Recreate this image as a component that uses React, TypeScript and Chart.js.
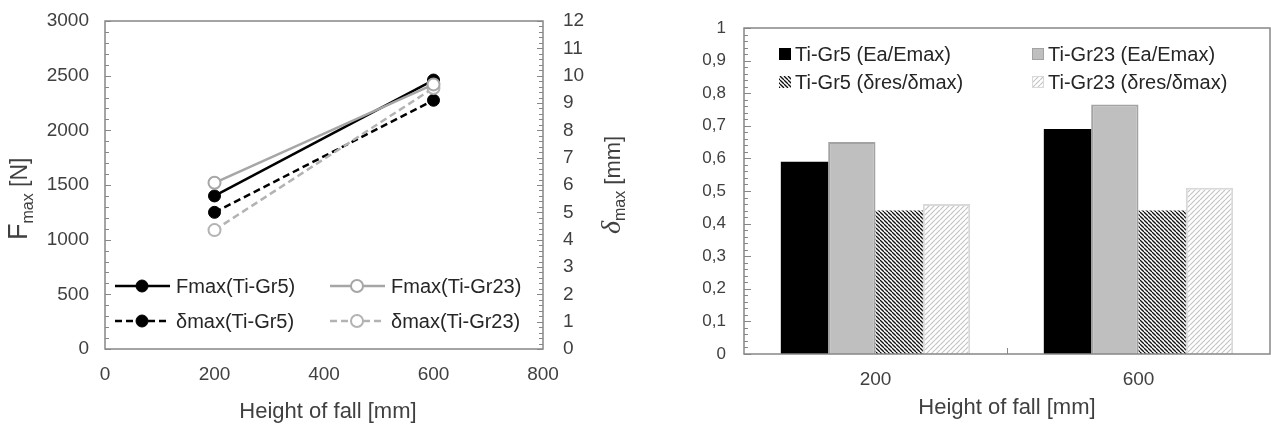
import React, { useEffect, useRef } from 'react';
import { Chart, registerables } from 'chart.js';
Chart.register(...registerables);

const FONT = '"Liberation Sans", Arial, sans-serif';
const TICK_COLOR = '#404040';
const TEXT_COLOR = '#262626';

// ---- Left chart data ----
const heights = [200, 600];
const fmaxGr5 = [1400, 2460];
const fmaxGr23 = [1520, 2420];
const dmaxGr5 = [5.0, 9.1];
const dmaxGr23 = [4.35, 9.55];
const lineLabels = ['Fmax(Ti-Gr5)', 'Fmax(Ti-Gr23)', 'δmax(Ti-Gr5)', 'δmax(Ti-Gr23)'];

// ---- Right chart data ----
const barCategories = ['200', '600'];
const eaGr5 = [0.59, 0.69];
const eaGr23 = [0.65, 0.765];
const dresGr5 = [0.44, 0.44];
const dresGr23 = [0.46, 0.51];
const barLabels = ['Ti-Gr5 (Ea/Emax)', 'Ti-Gr23 (Ea/Emax)', 'Ti-Gr5 (δres/δmax)', 'Ti-Gr23 (δres/δmax)'];

const BLACK = '#000000';
const GRAY = '#a6a6a6';
const GRAY_DASH = '#b3b3b3';
const FRAME = '#878787';

function makeHatch(color: string, bg: string, size: number, width: number, back: boolean) {
  const c = document.createElement('canvas');
  c.width = size; c.height = size;
  const g = c.getContext('2d')!;
  g.fillStyle = bg; g.fillRect(0, 0, size, size);
  g.strokeStyle = color; g.lineWidth = width;
  for (const k of [-size, 0, size]) {
    g.beginPath();
    if (back) { g.moveTo(k, 0); g.lineTo(k + size, size); }
    else { g.moveTo(k, size); g.lineTo(k + size, 0); }
    g.stroke();
  }
  return g.createPattern(c, 'repeat')!;
}

function hline(ctx: CanvasRenderingContext2D, x1: number, y: number, x2: number) {
  ctx.beginPath(); ctx.moveTo(x1, y); ctx.lineTo(x2, y); ctx.stroke();
}

function drawRotTitle(ctx: CanvasRenderingContext2D, x: number, y: number, parts: { t: string; f: string; dy: number }[]) {
  ctx.save();
  ctx.translate(x, y);
  ctx.rotate(-Math.PI / 2);
  ctx.fillStyle = TICK_COLOR;
  ctx.textBaseline = 'alphabetic';
  ctx.textAlign = 'left';
  let cx = 0;
  for (const p of parts) {
    ctx.font = p.f;
    ctx.fillText(p.t, cx, p.dy);
    cx += ctx.measureText(p.t).width;
  }
  ctx.restore();
}

const noPad = (s: any) => { s.paddingTop = 0; s.paddingBottom = 0; };

const leftPlugin = {
  id: 'leftDeco',
  beforeDatasetsDraw(chart: any) {
    const { ctx, chartArea: a, scales } = chart;
    ctx.save();
    ctx.strokeStyle = FRAME;
    ctx.lineWidth = 1.5;
    ctx.strokeRect(a.left, a.top, a.right - a.left, a.bottom - a.top);
    ctx.lineWidth = 1;
    for (let v = 0; v <= 3000; v += 100) {
      const p = Math.round(scales.y.getPixelForValue(v)) + 0.5;
      hline(ctx, a.left, p, a.left + (v % 500 === 0 ? 6 : 4));
    }
    for (let i = 0; i <= 60; i++) {
      const p = Math.round(scales.y1.getPixelForValue(i / 5)) + 0.5;
      hline(ctx, a.right - (i % 5 === 0 ? 6 : 4), p, a.right);
    }
    ctx.restore();
  },
  afterDatasetsDraw(chart: any) {
    const { ctx } = chart;
    const ds = chart.data.datasets;
    const pos = [[115, 286], [330, 286], [115, 321], [330, 321]];
    ctx.save();
    ds.forEach((d: any, i: number) => {
      const [x0, y] = pos[i];
      ctx.strokeStyle = d.borderColor;
      ctx.lineWidth = d.borderWidth;
      ctx.setLineDash(d.borderDash || []);
      ctx.beginPath(); ctx.moveTo(x0, y); ctx.lineTo(x0 + 55, y); ctx.stroke();
      ctx.setLineDash([]);
      ctx.beginPath(); ctx.arc(x0 + 27, y, d.pointRadius, 0, Math.PI * 2);
      ctx.fillStyle = d.pointBackgroundColor; ctx.fill();
      ctx.lineWidth = d.pointBorderWidth; ctx.strokeStyle = d.pointBorderColor; ctx.stroke();
      ctx.fillStyle = TEXT_COLOR;
      ctx.font = '20px ' + FONT;
      ctx.textBaseline = 'middle';
      ctx.textAlign = 'left';
      ctx.fillText(d.label, x0 + 61, y + 1);
    });
    ctx.restore();
  },
  afterDraw(chart: any) {
    const { ctx } = chart;
    ctx.save();
    ctx.fillStyle = TICK_COLOR;
    ctx.font = '22px ' + FONT;
    ctx.textAlign = 'center';
    ctx.textBaseline = 'middle';
    ctx.fillText('Height of fall [mm]', 328, 412);
    ctx.restore();
    drawRotTitle(ctx, 27, 240, [
      { t: 'F', f: '27px ' + FONT, dy: 0 },
      { t: 'max', f: '16px ' + FONT, dy: 6 },
      { t: ' [N]', f: '23px ' + FONT, dy: 0 },
    ]);
    drawRotTitle(ctx, 620, 234, [
      { t: 'δ', f: 'italic 28px "Liberation Serif", serif', dy: 0 },
      { t: 'max', f: '16px ' + FONT, dy: 5 },
      { t: ' [mm]', f: '22px ' + FONT, dy: 0 },
    ]);
  },
};

const rightPlugin = {
  id: 'rightDeco',
  afterDatasetsDraw(chart: any) {
    const { ctx, chartArea: a, scales } = chart;
    ctx.save();
    ctx.strokeStyle = FRAME;
    ctx.lineWidth = 1.5;
    ctx.strokeRect(a.left, a.top, a.right - a.left, a.bottom - a.top);
    ctx.lineWidth = 1;
    for (let i = 0; i <= 50; i++) {
      const p = Math.round(scales.y.getPixelForValue(i / 50)) + 0.5;
      hline(ctx, a.left, p, a.left + (i % 5 === 0 ? 7 : 4));
    }
    const mid = Math.round((scales.x.getPixelForValue(0) + scales.x.getPixelForValue(1)) / 2) + 0.5;
    ctx.beginPath(); ctx.moveTo(mid, a.bottom); ctx.lineTo(mid, a.bottom - 6); ctx.stroke();
    // legend
    const ds = chart.data.datasets;
    const pos = [[139, 54], [392, 54], [139, 82], [392, 82]];
    ds.forEach((d: any, i: number) => {
      const [x0, y] = pos[i];
      ctx.fillStyle = d.backgroundColor;
      ctx.fillRect(x0, y - 6, 12, 12);
      if (d.borderWidth) {
        ctx.strokeStyle = d.borderColor; ctx.lineWidth = 1;
        ctx.strokeRect(x0 + 0.5, y - 5.5, 11, 11);
      }
      ctx.fillStyle = TEXT_COLOR;
      ctx.font = '20px ' + FONT;
      ctx.textBaseline = 'middle';
      ctx.textAlign = 'left';
      ctx.fillText(d.label, x0 + 16, y + 1);
    });
    ctx.restore();
  },
  afterDraw(chart: any) {
    const { ctx } = chart;
    ctx.save();
    ctx.fillStyle = TICK_COLOR;
    ctx.font = '22px ' + FONT;
    ctx.textAlign = 'center';
    ctx.textBaseline = 'middle';
    ctx.fillText('Height of fall [mm]', 367, 408);
    ctx.restore();
  },
};

export default function App() {
  const leftRef = useRef<HTMLCanvasElement>(null);
  const rightRef = useRef<HTMLCanvasElement>(null);

  useEffect(() => {
    const pt = (ys: number[]) => heights.map((h, i) => ({ x: h, y: ys[i] }));
    const left = new Chart(leftRef.current!, {
      type: 'line',
      data: {
        datasets: [
          { label: lineLabels[0], data: pt(fmaxGr5), yAxisID: 'y', borderColor: BLACK, borderWidth: 2.5, pointRadius: 6, pointBackgroundColor: BLACK, pointBorderColor: BLACK, pointBorderWidth: 1, order: 1 },
          { label: lineLabels[1], data: pt(fmaxGr23), yAxisID: 'y', borderColor: GRAY, borderWidth: 2.5, pointRadius: 6, pointBackgroundColor: '#ffffff', pointBorderColor: GRAY, pointBorderWidth: 2, order: 0 },
          { label: lineLabels[2], data: pt(dmaxGr5), yAxisID: 'y1', borderColor: BLACK, borderWidth: 2.5, borderDash: [7, 4], pointRadius: 6, pointBackgroundColor: BLACK, pointBorderColor: BLACK, pointBorderWidth: 1, order: 3 },
          { label: lineLabels[3], data: pt(dmaxGr23), yAxisID: 'y1', borderColor: GRAY_DASH, borderWidth: 2.5, borderDash: [7, 4], pointRadius: 6, pointBackgroundColor: '#ffffff', pointBorderColor: GRAY_DASH, pointBorderWidth: 2, order: 2 },
        ],
      } as any,
      options: {
        responsive: false,
        animation: false,
        layout: { padding: { top: 21, left: 0, right: 0, bottom: 0 } },
        plugins: { legend: { display: false }, tooltip: { enabled: false } },
        scales: {
          x: {
            type: 'linear', min: 0, max: 800,
            ticks: { stepSize: 200, color: TICK_COLOR, font: { family: FONT, size: 19 }, padding: 14, callback: (v: any) => String(v) },
            grid: { display: false, drawTicks: false }, border: { display: false },
            afterFit: (s: any) => { s.height = 77; },
          },
          y: {
            position: 'left', min: 0, max: 3000,
            ticks: { stepSize: 500, color: TICK_COLOR, font: { family: FONT, size: 19 }, padding: 16, callback: (v: any) => String(v) },
            grid: { display: false, drawTicks: false }, border: { display: false },
            afterFit: (s: any) => { s.width = 105; noPad(s); },
          },
          y1: {
            position: 'right', min: 0, max: 12,
            ticks: { stepSize: 1, color: TICK_COLOR, font: { family: FONT, size: 19 }, padding: 20, callback: (v: any) => String(v) },
            grid: { display: false, drawTicks: false }, border: { display: false },
            afterFit: (s: any) => { s.width = 97; noPad(s); },
          },
        },
      } as any,
      plugins: [leftPlugin],
    });

    const darkHatch = makeHatch('#111111', '#ffffff', 4, 1.3, true);
    const lightHatch = makeHatch('#c4c4c4', '#ffffff', 5, 1.2, false);
    const right = new Chart(rightRef.current!, {
      type: 'bar',
      data: {
        labels: barCategories,
        datasets: [
          { label: barLabels[0], data: eaGr5, backgroundColor: BLACK, borderWidth: 0 },
          { label: barLabels[1], data: eaGr23, backgroundColor: '#bfbfbf', borderColor: '#a3a3a3', borderWidth: 2 },
          { label: barLabels[2], data: dresGr5, backgroundColor: darkHatch, borderWidth: 0 },
          { label: barLabels[3], data: dresGr23, backgroundColor: lightHatch, borderColor: '#d9d9d9', borderWidth: 2 },
        ],
      } as any,
      options: {
        responsive: false,
        animation: false,
        layout: { padding: { top: 28, left: 0, right: 1, bottom: 0 } },
        datasets: { bar: { categoryPercentage: 0.72, barPercentage: 1.0 } },
        plugins: { legend: { display: false }, tooltip: { enabled: false } },
        scales: {
          x: {
            ticks: { color: TICK_COLOR, font: { family: FONT, size: 19 }, padding: 14 },
            grid: { display: false, drawTicks: false }, border: { display: false },
            afterFit: (s: any) => { s.height = 72; },
          },
          y: {
            min: 0, max: 1,
            ticks: {
              stepSize: 0.1, color: TICK_COLOR, font: { family: FONT, size: 17 }, padding: 18,
              callback: (v: any) => {
                const n = Math.round(Number(v) * 10) / 10;
                return n === 0 ? '0' : n === 1 ? '1' : n.toFixed(1).replace('.', ',');
              },
            },
            grid: { display: false, drawTicks: false }, border: { display: false },
            afterFit: (s: any) => { s.width = 104; noPad(s); },
          },
        },
      } as any,
      plugins: [rightPlugin],
    });

    return () => { left.destroy(); right.destroy(); };
  }, []);

  return (
    <div style={{ position: 'fixed', left: 0, top: 0, width: 1271, height: 426, background: '#ffffff' }}>
      <canvas ref={leftRef} width={640} height={426} style={{ position: 'absolute', left: 0, top: 0 }} />
      <canvas ref={rightRef} width={631} height={426} style={{ position: 'absolute', left: 640, top: 0 }} />
    </div>
  );
}
